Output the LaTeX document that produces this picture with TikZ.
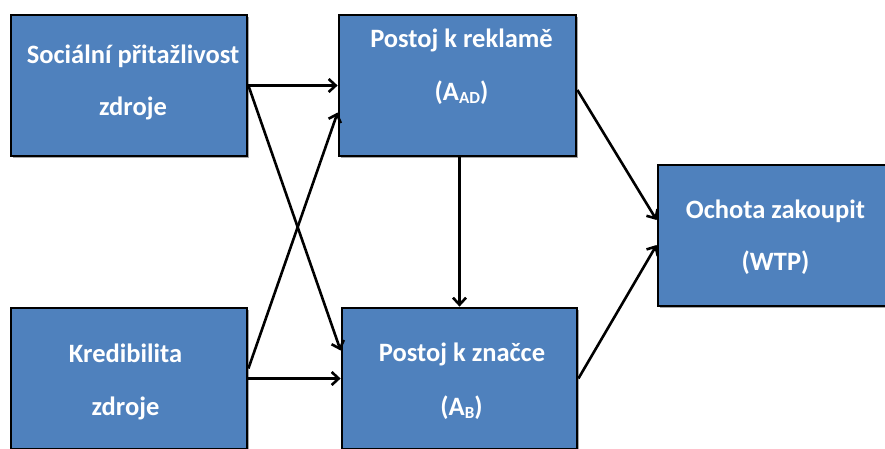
\documentclass[tikz,border=0pt]{standalone}
\usepackage{fontspec}
\setmainfont{Carlito}
\usetikzlibrary{arrows.meta,shadows}
\definecolor{boxblue}{HTML}{4F81BD}
\tikzset{
  box/.style={draw=black, line width=2.8pt, fill=boxblue, inner sep=0pt,
    drop shadow={shadow xshift=2pt, shadow yshift=-2pt, opacity=0.35, fill=black}},
  lbl/.style={anchor=base, text=white, inner sep=0pt, font=\fontsize{26.5}{26.5}\selectfont\bfseries},
  conn/.style={line width=2.6pt, -{Straight Barb[length=7pt,width=13pt]}}
}
\newcommand{\subs}[1]{\raisebox{-3pt}{\fontsize{17}{17}\selectfont #1}}
\begin{document}
\begin{tikzpicture}[x=1pt,y=-1pt]
\useasboundingbox (0,0) rectangle (885,448);
\node[box, minimum width=236pt, minimum height=141pt] (b1) at (129,85.5) {};
\node[box, minimum width=237pt, minimum height=141pt] (b2) at (457.5,85.5) {};
\node[box, minimum width=234pt, minimum height=141pt] (b3) at (775,235.5) {};
\node[box, minimum width=236pt, minimum height=141pt] (b4) at (129,378.5) {};
\node[box, minimum width=235pt, minimum height=141pt] (b5) at (459.5,378.5) {};

\node[lbl] (t1a) at (133,63) {Sociální přitažlivost};
\node[lbl] (t1b) at (133,115) {zdroje};
\node[lbl] (t2a) at (461.5,47) {Postoj k reklamě};
\node[lbl] (t2b) at (461.5,100) {(A\subs{AD})};
\node[lbl] (t3a) at (775.5,218) {Ochota zakoupit};
\node[lbl] (t3b) at (775.5,270) {(WTP)};
\node[lbl] (t4a) at (125.5,362) {Kredibilita};
\node[lbl] (t4b) at (125.5,415) {zdroje};
\node[lbl] (t5a) at (462,361) {Postoj k značce};
\node[lbl] (t5b) at (461.5,415) {(A\subs{B})};

\draw[conn] (b1.east) -- (b2.west);
\draw[conn] (b1.east) -- ([yshift=28pt]b5.west);
\draw[conn] ([yshift=10pt]b4.east) -- ([yshift=-27pt]b2.west);
\draw[conn] (b4.east) -- (b5.west);
\draw[conn] ([xshift=2pt]b2.south) -- ([xshift=2pt]b2.south |- b5.north);
\draw[conn] ([yshift=-4.5pt]b2.east) -- ([yshift=15.5pt]b3.west);
\draw[conn] (b5.east) -- ([yshift=-9.5pt]b3.west);
\end{tikzpicture}
\end{document}
